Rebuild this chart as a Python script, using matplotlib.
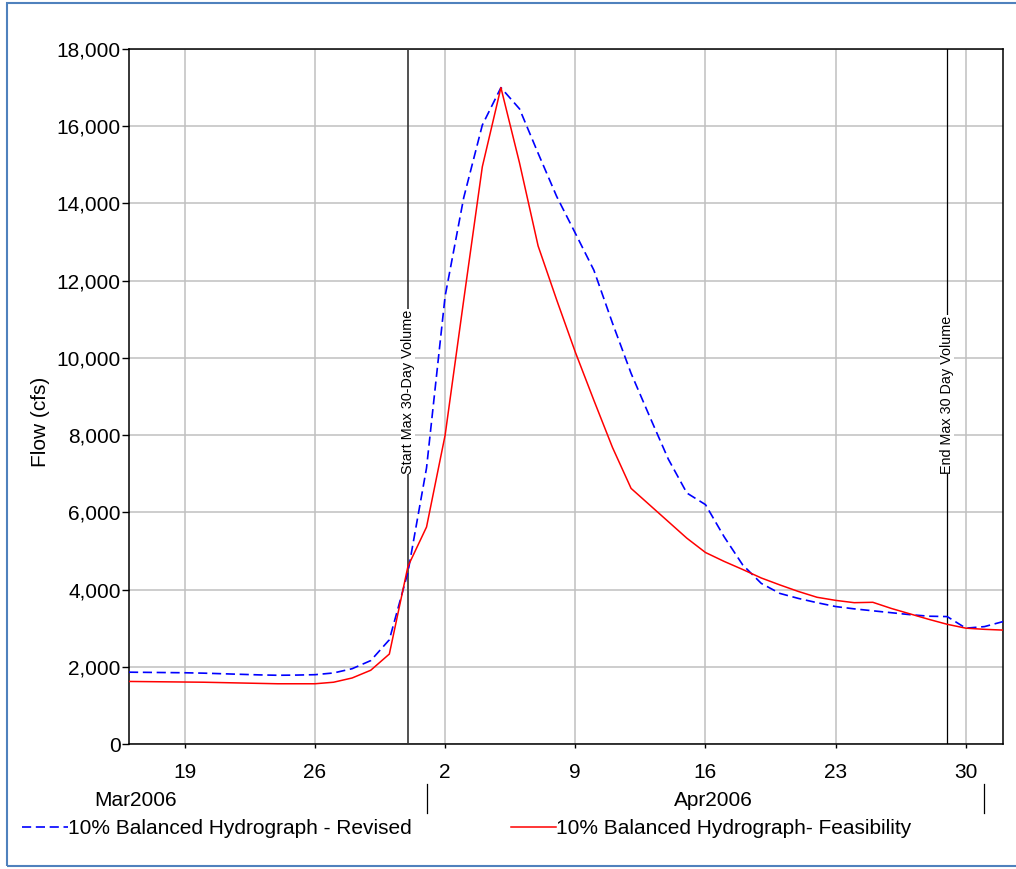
import numpy as np
import pandas as pd
import matplotlib
matplotlib.use("Agg")
import matplotlib.pyplot as plt
import matplotlib.dates as mdates
import matplotlib.ticker as mticker
import matplotlib.transforms as mtransforms
from matplotlib.patches import Rectangle

plt.rcParams['font.family'] = ['Liberation Sans', 'DejaVu Sans']

# daily flows, Mar 16 - May 2 2006
dates = pd.date_range("2006-03-16", "2006-05-02", freq="D")
revised = [1860, 1855, 1850, 1845, 1835, 1820, 1805, 1790, 1780, 1785, 1795,
           1840, 1950, 2160, 2700, 4450,
           7150, 11600, 14150, 16030, 17000, 16450, 15300, 14180, 13230, 12270,
           10900, 9600, 8480, 7380, 6500, 6200, 5370, 4640, 4160, 3900,
           3770, 3660, 3560, 3500, 3450, 3400, 3350, 3310, 3300, 3000,
           3040, 3170]
feasibility = [1620, 1615, 1610, 1605, 1600, 1590, 1580, 1570, 1560, 1560, 1560,
               1600, 1710, 1910, 2330, 4600,
               5620, 8000, 11500, 14950, 17000, 15050, 12900, 11500, 10150, 8900,
               7680, 6620, 6190, 5760, 5330, 4960, 4730, 4520, 4300, 4120,
               3950, 3800, 3720, 3660, 3670, 3510, 3370, 3230, 3100, 3000,
               2970, 2950]

tick_dates = pd.to_datetime(["2006-03-19", "2006-03-26", "2006-04-02", "2006-04-09",
                             "2006-04-16", "2006-04-23", "2006-04-30"])
tick_labels = ["19", "26", "2", "9", "16", "23", "30"]
month_labels = ["Mar2006", "Apr2006"]
month_pos = pd.to_datetime(["2006-03-16 08:00", "2006-04-16 10:00"])
month_breaks = pd.to_datetime(["2006-04-01", "2006-05-01"])
start_30day = pd.Timestamp("2006-03-31")
end_30day = pd.Timestamp("2006-04-29")

fs = 15

fig = plt.figure(figsize=(10.16, 8.69), dpi=100)
ax = fig.add_axes([129/1016, 125/869, 874/1016, 695/869])

l1, = ax.plot(dates, revised, color="#0000ff", lw=1.2, dashes=(5.5, 2.8),
              label="10% Balanced Hydrograph - Revised", zorder=4)
l2, = ax.plot(dates, feasibility, color="#ff0000", lw=1.1,
              label="10% Balanced Hydrograph- Feasibility", zorder=4)

ax.axvline(start_30day, color="#333333", lw=1.2, zorder=3)
ax.axvline(end_30day, color="black", lw=0.9, zorder=3)
ax.text(start_30day, 7000, "Start Max 30-Day Volume", rotation=90, ha="center", va="bottom",
        fontsize=10.4, zorder=5, bbox=dict(facecolor="white", edgecolor="none", pad=0))
ax.text(end_30day, 7000, "End Max 30 Day Volume", rotation=90, ha="center", va="bottom",
        fontsize=10.4, zorder=5, bbox=dict(facecolor="white", edgecolor="none", pad=0))

ax.set_xlim(pd.Timestamp("2006-03-16"), pd.Timestamp("2006-05-02"))
ax.set_ylim(0, 18000)
ax.set_xticks(tick_dates)
ax.set_xticklabels(tick_labels)
ax.set_yticks(np.arange(0, 18001, 2000))
ax.yaxis.set_major_formatter(mticker.StrMethodFormatter("{x:,.0f}"))
ax.grid(color="#c0c0c0", lw=1.1)
ax.set_axisbelow(True)
ax.tick_params(axis="y", direction="out", length=5, width=1, pad=1, labelsize=fs)
ax.tick_params(axis="x", direction="out", length=3, width=1, pad=11, labelsize=fs)
for s in ax.spines.values():
    s.set_color("black")
    s.set_linewidth(1.1)

# month row below the day ticks
trans = mtransforms.blended_transform_factory(ax.transData, ax.transAxes)
for lab, pos in zip(month_labels, month_pos):
    ax.text(pos, -0.0806, lab, transform=trans, ha="center", va="center", fontsize=fs)
for b in month_breaks:
    ax.plot([b, b], [-0.0576, -0.0993], transform=trans, color="black", lw=0.9, clip_on=False)

fig.text(40/1016, 1-422/869, "Flow (cfs)", rotation=90, ha="center", va="center", fontsize=fs)

fig.legend(handles=[l1, l2], loc="center left", bbox_to_anchor=(22/1016, 1-829/869), ncol=2,
           frameon=False, handlelength=2.2, handletextpad=0, columnspacing=4.75,
           borderaxespad=0, borderpad=0, fontsize=fs)

fig.patches.append(Rectangle((7/1016, 3/869), 1.1, 863/869, transform=fig.transFigure,
                             fill=False, edgecolor="#4f81bd", lw=1.5))

fig.savefig("out.png", dpi=100)
